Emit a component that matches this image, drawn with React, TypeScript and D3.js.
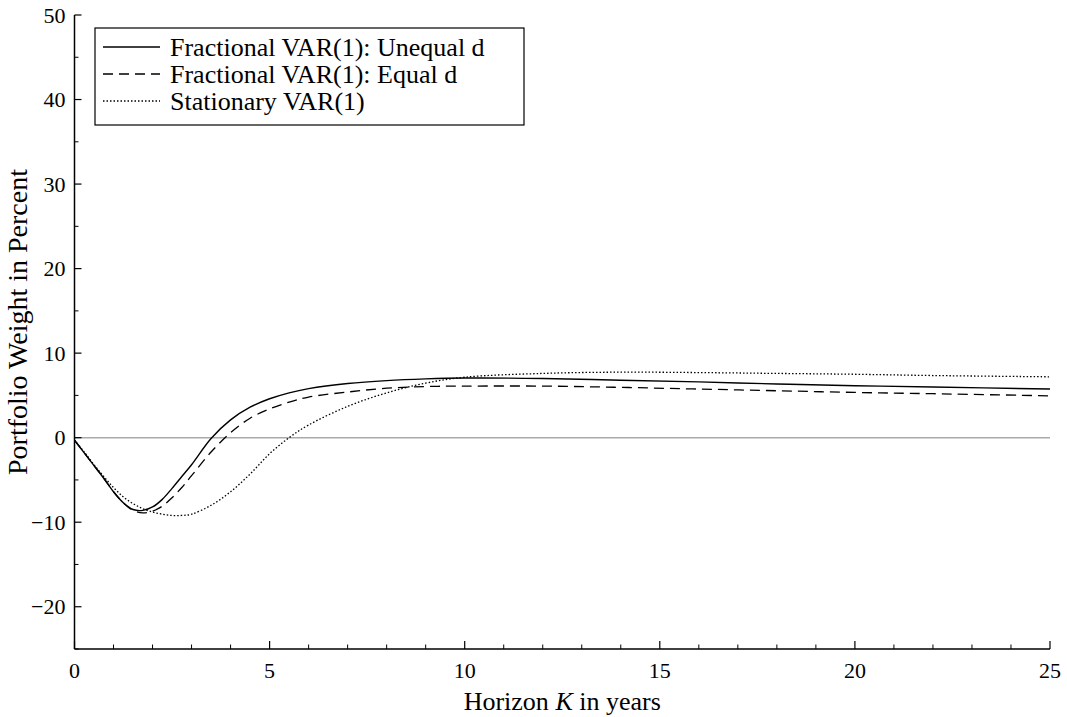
import React from "react";
import * as d3 from "d3";

const horizons = [0, 0.25, 0.5, 0.75, 1, 1.25, 1.5, 1.75, 2, 2.25, 2.5, 2.75, 3, 3.5, 4, 4.5, 5, 5.5, 6, 7, 8, 9, 10, 12, 14, 16, 18, 20, 22, 25];
const unequalD = [-0.3, -1.8, -3.3, -4.8, -6.4, -7.7, -8.5, -8.6, -8.2, -7.3, -6.0, -4.6, -3.2, -0.1, 2.1, 3.6, 4.6, 5.3, 5.8, 6.4, 6.75, 6.95, 7.05, 7.0, 6.8, 6.6, 6.35, 6.15, 6.0, 5.75];
const equalD = [-0.3, -1.8, -3.3, -4.8, -6.4, -7.7, -8.6, -8.9, -8.7, -8.1, -7.1, -5.9, -4.5, -1.7, 0.6, 2.3, 3.4, 4.2, 4.8, 5.4, 5.85, 6.05, 6.1, 6.1, 5.95, 5.75, 5.55, 5.35, 5.2, 4.95];
const stationary = [-0.3, -1.7, -3.2, -4.6, -5.9, -7.0, -7.8, -8.4, -8.8, -9.05, -9.2, -9.2, -9.05, -8.0, -6.4, -4.3, -1.9, 0.0, 1.5, 3.7, 5.3, 6.45, 7.15, 7.6, 7.75, 7.7, 7.6, 7.5, 7.35, 7.2];
const seriesNames = ["Fractional VAR(1): Unequal d", "Fractional VAR(1): Equal d", "Stationary VAR(1)"];
const xMajorTicks = [0, 5, 10, 15, 20, 25];
const yMajorTicks = [-20, -10, 0, 10, 20, 30, 40, 50];

const W = 1067, H = 717;
const X0 = 74.5, X1 = 1050, Y0 = 649, Y1 = 15;
const FONT = "Liberation Serif, Times New Roman, Times, serif";

export default function App() {
  const x = d3.scaleLinear().domain([0, 25]).range([X0, X1]);
  const y = d3.scaleLinear().domain([-25, 50]).range([Y0, Y1]);
  const xMinor = d3.range(0, 26, 1).filter((v) => v % 5 !== 0);
  const yMinor = d3.range(-25, 51, 5).filter((v) => v % 10 !== 0);
  const series = [
    { name: seriesNames[0], vals: unequalD, dash: "none", sw: 1.4 },
    { name: seriesNames[1], vals: equalD, dash: "10,6", sw: 1.3 },
    { name: seriesNames[2], vals: stationary, dash: "1.5,2", sw: 1.3 },
  ];
  const line = (vals: number[]) =>
    d3
      .line<number>()
      .x((_, i) => x(horizons[i]))
      .y((d) => y(d))
      .curve(d3.curveCatmullRom.alpha(0.5))(vals) || "";

  return (
    <svg width={W} height={H} style={{ position: "absolute", left: 0, top: 0, background: "#fff", fontFamily: FONT }}>
      <rect x={0} y={0} width={W} height={H} fill="#fff" />
      <line x1={X0} x2={X1} y1={y(0)} y2={y(0)} stroke="#aaa" strokeWidth={1.5} />
      {series.map((s, i) => (
        <path key={i} d={line(s.vals)} fill="none" stroke="#000" strokeWidth={s.sw} strokeDasharray={s.dash} />
      ))}
      <line x1={X0} x2={X0} y1={Y1} y2={Y0} stroke="#000" strokeWidth={1.5} />
      <line x1={X0} x2={X1} y1={Y0} y2={Y0} stroke="#000" strokeWidth={1.5} />
      {xMajorTicks.map((t) => (
        <g key={"xm" + t}>
          <line x1={x(t)} x2={x(t)} y1={Y0} y2={Y0 - 8} stroke="#000" strokeWidth={1.2} />
          <text x={x(t)} y={Y0 + 29} textAnchor="middle" fontSize={22} style={{ fontFamily: FONT }}>{t}</text>
        </g>
      ))}
      {xMinor.map((t) => (
        <line key={"xn" + t} x1={x(t)} x2={x(t)} y1={Y0} y2={Y0 - 4.5} stroke="#000" strokeWidth={1} />
      ))}
      {yMajorTicks.map((t) => (
        <g key={"ym" + t}>
          <line x1={X0} x2={X0 + 7} y1={y(t)} y2={y(t)} stroke="#000" strokeWidth={1.2} />
          <text x={X0 - 9} y={y(t) + 7.5} textAnchor="end" fontSize={22} style={{ fontFamily: FONT }}>{t < 0 ? "\u2212" + Math.abs(t) : t}</text>
        </g>
      ))}
      {yMinor.map((t) => (
        <line key={"yn" + t} x1={X0} x2={X0 + 4} y1={y(t)} y2={y(t)} stroke="#000" strokeWidth={1} />
      ))}
      <text x={(X0 + X1) / 2} y={710} textAnchor="middle" fontSize={26} style={{ fontFamily: FONT }}>
        Horizon <tspan fontStyle="italic">K</tspan> in years
      </text>
      <text transform={`translate(27,322) rotate(-90)`} textAnchor="middle" fontSize={28} style={{ fontFamily: FONT }}>
        Portfolio Weight in Percent
      </text>
      <rect x={95} y={28} width={429} height={97} fill="#fff" stroke="#000" strokeWidth={1.2} />
      {series.map((s, i) => {
        const cy = 47 + i * 27;
        return (
          <g key={"lg" + i}>
            <line x1={103} x2={160} y1={cy} y2={cy} stroke="#000" strokeWidth={s.sw} strokeDasharray={s.dash} />
            <text x={170} y={cy + 8.5} fontSize={26} style={{ fontFamily: FONT }}>{s.name}</text>
          </g>
        );
      })}
    </svg>
  );
}
